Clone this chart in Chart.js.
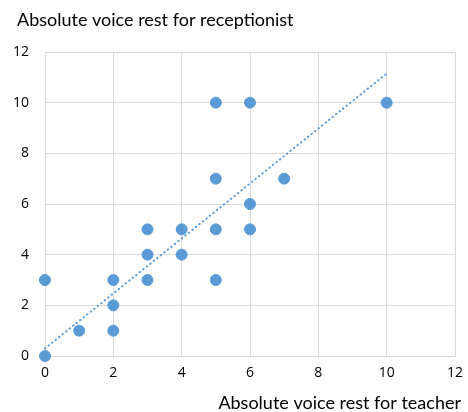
<!DOCTYPE html>
<html>
<head>
<meta charset="utf-8">
<script src="https://cdn.jsdelivr.net/npm/chart.js@4"></script>
<style>
  html, body { margin: 0; padding: 0; background: #fff; }
  #wrap { width: 468px; height: 412px; position: relative; }
</style>
</head>
<body>
<div id="wrap"><canvas id="chart" width="468" height="412"></canvas></div>
<script>
// teacher vs receptionist voice rest
const teacherRest = [0, 0, 1, 2, 2, 2, 3, 3, 3, 4, 4, 5, 5, 5, 5, 6, 6, 6, 7, 10];
const receptionistRest = [0, 3, 1, 1, 2, 3, 3, 4, 5, 4, 5, 3, 5, 7, 10, 5, 6, 10, 7, 10];

// trend line ends
const trendX = [0, 10];
const trendY = [0.3, 11.15];

const xTicks = [0, 2, 4, 6, 8, 10, 12];
const yTicks = [0, 2, 4, 6, 8, 10, 12];

const yTitle = "Absolute voice rest for receptionist";
const xTitle = "Absolute voice rest for teacher";

const FONT = "'Open Sans', sans-serif";
const TITLE_FONT = "Lato, sans-serif";
const BLUE = "#5b9bd5";
const GRID = "#d9d9d9";

const points = teacherRest.map((x, i) => ({ x, y: receptionistRest[i] }));
const trend = trendX.map((x, i) => ({ x, y: trendY[i] }));

// axis titles: y title top-left, x title bottom-right
const axisTitles = {
  id: "axisTitles",
  afterDraw(chart) {
    const ctx = chart.ctx;
    ctx.save();
    ctx.fillStyle = "#000";
    ctx.textBaseline = "middle";
    ctx.font = "18px " + TITLE_FONT;
    ctx.textAlign = "left";
    ctx.fillText(yTitle, 17, 20);
    ctx.textAlign = "right";
    ctx.fillText(xTitle, 461, 403);
    ctx.restore();
  }
};

new Chart(document.getElementById("chart"), {
  type: "scatter",
  data: {
    datasets: [
      {
        type: "line",
        data: trend,
        borderColor: BLUE,
        borderWidth: 2,
        borderDash: [0.5, 4],
        borderCapStyle: "round",
        pointRadius: 0,
        fill: false,
        clip: false,
        order: 0
      },
      {
        data: points,
        backgroundColor: BLUE,
        borderColor: BLUE,
        pointRadius: 5.5,
        pointHoverRadius: 5.5,
        clip: false,
        order: 1
      }
    ]
  },
  options: {
    responsive: false,
    animation: false,
    layout: { padding: { top: 52, right: 13, left: 0, bottom: 0 } },
    plugins: {
      legend: { display: false },
      tooltip: { enabled: false }
    },
    scales: {
      x: {
        type: "linear",
        min: 0,
        max: 12,
        afterBuildTicks: s => { s.ticks = xTicks.map(v => ({ value: v })); },
        afterFit: s => { s.height = 56; s.paddingLeft = 0; s.paddingRight = 0; },
        grid: { color: GRID, drawTicks: false, lineWidth: 1 },
        border: { color: GRID },
        ticks: { color: "#000", font: { family: FONT, size: 14 }, padding: 9, maxRotation: 0 }
      },
      y: {
        type: "linear",
        min: 0,
        max: 12,
        afterBuildTicks: s => { s.ticks = yTicks.map(v => ({ value: v })); },
        afterFit: s => { s.width = 45; s.paddingTop = 0; s.paddingBottom = 0; },
        grid: { color: GRID, drawTicks: false, lineWidth: 1 },
        border: { color: GRID },
        ticks: { color: "#000", font: { family: FONT, size: 14 }, padding: 16 }
      }
    }
  },
  plugins: [axisTitles]
});
</script>
</body>
</html>
